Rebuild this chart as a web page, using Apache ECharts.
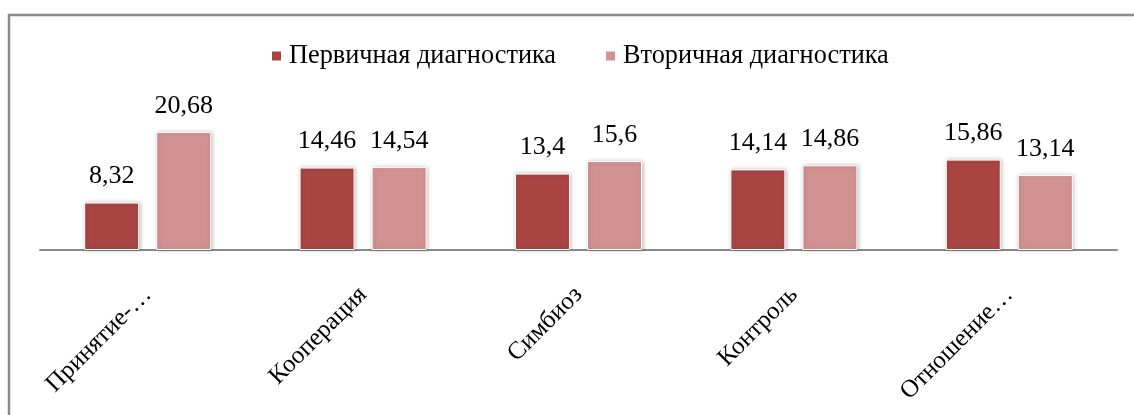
<!DOCTYPE html>
<html>
<head>
<meta charset="utf-8">
<script src="https://cdn.jsdelivr.net/npm/echarts@6/dist/echarts.min.js"></script>
<style>
html,body{margin:0;padding:0;background:#fff;}
#c{width:1134px;height:415px;}
</style>
</head>
<body>
<div id="c"></div>
<script>
const categories = ['Принятие-…', 'Кооперация', 'Симбиоз', 'Контроль', 'Отношение…'];
const seriesNames = ['Первичная диагностика', 'Вторичная диагностика'];
const primary = [8.32, 14.46, 13.4, 14.14, 15.86];
const secondary = [20.68, 14.54, 15.6, 14.86, 13.14];
const colors = ['#A94644', '#D39292'];

const font = 'Liberation Serif';
const chart = echarts.init(document.getElementById('c'), null, {renderer: 'canvas'});
function fmt(p){ return String(p.value).replace('.', ','); }
function barSeries(name, data, color){
  return {
    name: name, type: 'bar', data: data,
    barWidth: 55, barGap: '31%',
    itemStyle: {color: color, borderColor: '#fff', borderWidth: 1,
      shadowBlur: 4, shadowColor: 'rgba(0,0,0,0.25)', shadowOffsetX: 1, shadowOffsetY: 0},
    label: {show: true, position: 'top', distance: 13, formatter: fmt,
      fontFamily: font, fontSize: 26, color: '#000'}
  };
}
chart.setOption({
  animation: false,
  backgroundColor: '#fff',
  textStyle: {fontFamily: font},
  graphic: [{type: 'rect', shape: {x: 9, y: 15, width: 1200, height: 500},
    style: {fill: 'none', stroke: '#8a8a8a', lineWidth: 2.5}, silent: true}],
  legend: {
    top: 38, left: 265, itemWidth: 11, itemHeight: 11, itemGap: 48,
    icon: 'rect',
    textStyle: {fontFamily: font, fontSize: 26.3, color: '#000', padding: [0, 0, 0, 2]},
    data: seriesNames
  },
  grid: {left: 40, right: 17, top: 107.5, bottom: 165},
  xAxis: {
    type: 'category', data: categories,
    axisLine: {lineStyle: {color: '#8a8a8a', width: 2}},
    axisTick: {show: false},
    axisLabel: {rotate: 45, interval: 0, margin: 41, fontFamily: font, fontSize: 25, color: '#000'}
  },
  yAxis: {type: 'value', min: 0, max: 25, show: false, splitLine: {show: false}},
  series: [barSeries(seriesNames[0], primary, colors[0]), barSeries(seriesNames[1], secondary, colors[1])]
});
</script>
</body>
</html>
